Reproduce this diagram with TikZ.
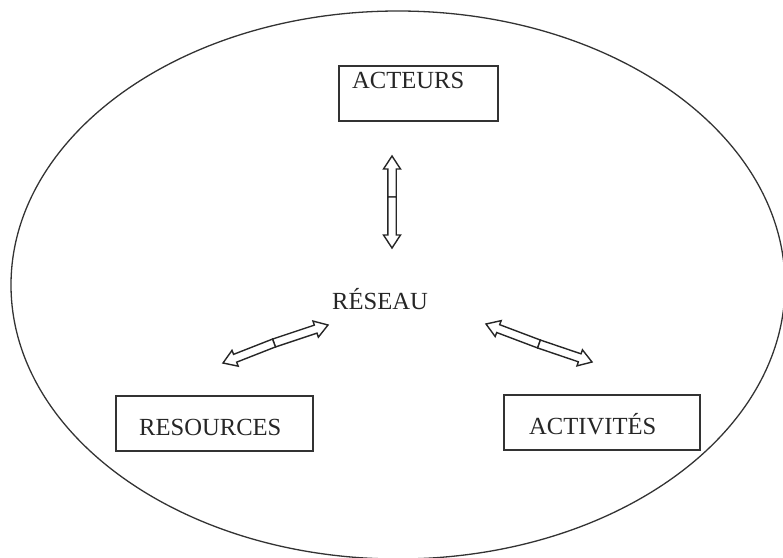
\documentclass[tikz,border=0pt]{standalone}
\usepackage{fontspec}
\setmainfont{Liberation Serif}
\usetikzlibrary{calc}

% hollow half-arrow: flat end at #1, tip at #2
\newcommand\hollowhalf[2]{%
  \coordinate (hh-c) at ($(#2)!13pt!(#1)$);
  \draw[arrowline]
    ($(#1)!4.2pt!90:(#2)$) -- ($(hh-c)!4.2pt!90:(#2)$) -- ($(hh-c)!8.5pt!90:(#2)$)
    -- (#2) -- ($(hh-c)!8.5pt!-90:(#2)$) -- ($(hh-c)!4.2pt!-90:(#2)$)
    -- ($(#1)!4.2pt!-90:(#2)$) -- cycle;
}

\begin{document}
\begin{tikzpicture}[x=1pt, y=-1pt,
  outline/.style={draw=black!80, line width=1.3pt},
  box/.style={outline, rectangle, inner sep=0pt},
  label/.style={anchor=base west, inner sep=0pt, text=black!85,
    font=\fontsize{24.6}{28}\selectfont},
  arrowline/.style={draw=black!85, line width=1.4pt, line join=miter, fill=white}]
  \useasboundingbox (0,0) rectangle (783,557);

  % enclosing ellipse
  \draw[outline] (398,285) ellipse [x radius=387pt, y radius=274pt];

  % boxes
  \node[box, minimum width=159pt, minimum height=55pt] (acteursbox) at (418.5,93.5) {};
  \node[box, minimum width=197pt, minimum height=55pt] (resbox) at (214.5,423.5) {};
  \node[box, minimum width=196pt, minimum height=55pt] (actbox) at (602,422.5) {};

  % labels
  \node[label] (acteurs) at (352,88) {ACTEURS};
  \node[label] (resources) at (139,435) {RESOURCES};
  \node[label] (activites) at (529,434) {ACTIVITÉS};
  \node[label] (reseau) at (332,309) {RÉSEAU};

  % arrow ends
  \coordinate (vtop) at (392,156);
  \coordinate (vbot) at (392,248);
  \coordinate (vmid) at (392,197);
  \coordinate (ltop) at (328,325);
  \coordinate (lbot) at (223,363);
  \coordinate (lmid) at (274,343);
  \coordinate (rtop) at (486,324);
  \coordinate (rbot) at (592,362);
  \coordinate (rmid) at (539,344);

  % double-headed hollow arrows, each made of two halves
  \hollowhalf{vmid}{vtop}
  \hollowhalf{vmid}{vbot}
  \hollowhalf{lmid}{ltop}
  \hollowhalf{lmid}{lbot}
  \hollowhalf{rmid}{rtop}
  \hollowhalf{rmid}{rbot}
\end{tikzpicture}
\end{document}
